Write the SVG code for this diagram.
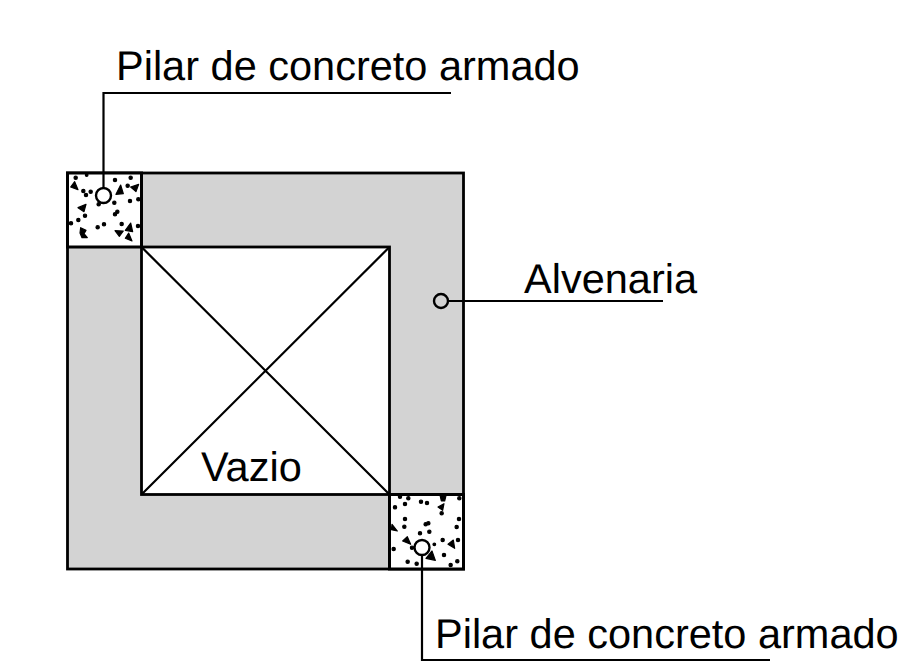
<svg xmlns="http://www.w3.org/2000/svg" width="901" height="670" viewBox="0 0 901 670">
<style>
.l{fill:none;stroke:#000;stroke-width:2.2}
.t{font-family:"Liberation Sans",Arial,sans-serif;font-size:41.5px;fill:#000;text-rendering:geometricPrecision}
.w{fill:#d3d3d3;stroke:#000;stroke-width:2.8}
.p{fill:#fff;stroke:#000;stroke-width:3}
.d circle,.d path{fill:#000;stroke:#000;stroke-width:3.5;stroke-linejoin:round}
.m{fill:none;stroke:#000;stroke-width:2.4}
</style>
<rect width="901" height="670" fill="#fff"/>
<g id="alvenaria"><rect class="w" x="67.500" y="173" width="396" height="396"/>
<text class="t" x="524" y="293">Alvenaria</text></g>
<g id="vazio"><rect x="141.500" y="247" width="248" height="247.500" fill="#fff" stroke="#000" stroke-width="2.800"/>
<path class="l" d="M141.500 247L389.500 494.500M389.500 247L141.500 494.500"/>
<text class="t" x="201" y="481">Vazio</text></g>
<g id="pilar-1"><rect class="p" x="67.500" y="173" width="74" height="74"/>
<g class="d" transform="translate(60 165) scale(.3333)">
<circle cx="47" cy="38" r="5"/><circle cx="80" cy="30" r="4"/><circle cx="165" cy="45" r="5"/><circle cx="212" cy="38" r="5"/><circle cx="70" cy="78" r="5"/><circle cx="78" cy="90" r="5"/><circle cx="92" cy="80" r="5"/><circle cx="203" cy="62" r="5"/><circle cx="116" cy="118" r="5"/><circle cx="163" cy="113" r="5"/><circle cx="210" cy="108" r="5"/><circle cx="235" cy="103" r="5"/><circle cx="75" cy="152" r="5"/><circle cx="55" cy="165" r="5"/><circle cx="33" cy="175" r="5"/><circle cx="113" cy="187" r="5"/><circle cx="132" cy="178" r="5"/><circle cx="185" cy="177" r="5"/><circle cx="234" cy="183" r="5"/><circle cx="165" cy="148" r="5"/><circle cx="172" cy="140" r="5"/>
<path d="M44 50L54 74L32 66Z"/><path d="M182 60L190 86L168 88Z"/><path d="M236 58L228 80L212 66Z"/><path d="M78 118L72 140L54 128Z"/><path d="M62 188L78 196L72 206L82 218L66 218L60 204Z"/><path d="M165 197L190 198L178 214Z"/><path d="M212 174L218 200L196 196Z"/><path d="M206 204L216 228L196 220Z"/>
</g></g>
<g id="pilar-2"><rect class="p" x="389.500" y="494.500" width="74" height="74.500"/>
<g class="d" transform="translate(380 485) scale(.3333)">
<circle cx="60" cy="35" r="5"/><circle cx="85" cy="40" r="5"/><circle cx="123" cy="50" r="5"/><circle cx="141" cy="54" r="5"/><circle cx="238" cy="40" r="5"/><circle cx="45" cy="67" r="5"/><circle cx="75" cy="57" r="5"/><circle cx="185" cy="85" r="5"/><circle cx="75" cy="102" r="5"/><circle cx="73" cy="125" r="5"/><circle cx="237" cy="102" r="5"/><circle cx="230" cy="126" r="5"/><circle cx="120" cy="145" r="5"/><circle cx="148" cy="140" r="5"/><circle cx="137" cy="118" r="5"/><circle cx="145" cy="115" r="5"/><circle cx="188" cy="165" r="5"/><circle cx="234" cy="165" r="5"/><circle cx="96" cy="188" r="5"/><circle cx="41" cy="192" r="5"/><circle cx="192" cy="210" r="5"/><circle cx="83" cy="230" r="5"/><circle cx="110" cy="236" r="5"/><circle cx="212" cy="240" r="5"/><circle cx="232" cy="229" r="5"/><circle cx="163" cy="178" r="4"/>
<path d="M180 30L198 32L194 48L184 48Z"/><path d="M192 56L188 76L174 66Z"/><path d="M36 118L52 138L34 134Z"/><path d="M82 155L92 178L68 168Z"/><path d="M220 165L224 190L204 178Z"/><path d="M156 198L166 226L138 220Z"/>
</g></g>
<g id="connectors">
<path class="l" d="M451 93H103.500V188"/>
<circle class="m" cx="103.500" cy="195.500" r="7.500"/>
<circle class="m" cx="441" cy="301" r="7"/>
<path class="l" d="M448 301H663"/>
<circle class="m" cx="422" cy="547.500" r="7.500"/>
<path class="l" d="M422 555V660H770"/>
</g>
<g id="labels"><text class="t" x="116" y="80">Pilar de concreto armado</text>
<text class="t" x="435" y="648">Pilar de concreto armado</text></g>
</svg>
